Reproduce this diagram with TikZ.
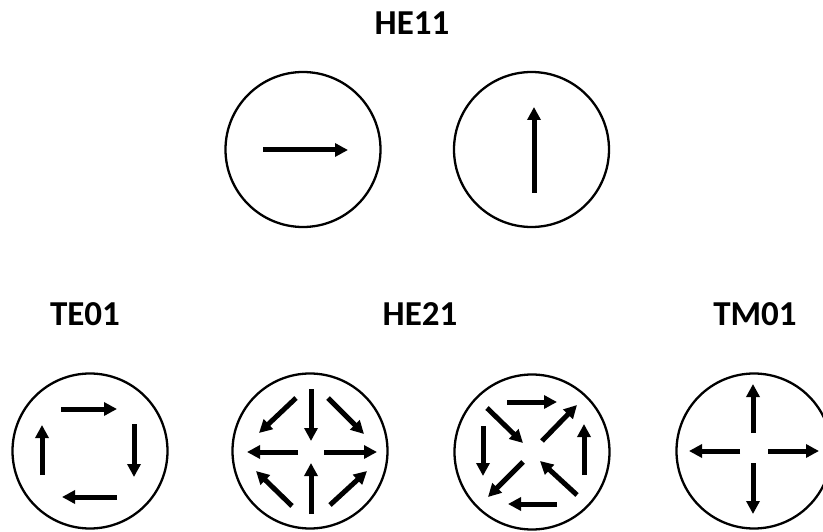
\documentclass[tikz,border=0pt]{standalone}
\usepackage{fontspec}
\setmainfont{Carlito}
\usepackage{tikz}
\usetikzlibrary{arrows.meta}

\begin{document}
\begin{tikzpicture}[
    x=1pt, y=-1pt,
    mode/.style={
        circle, draw=black, line width=2.3pt,
        minimum size=155pt, inner sep=0pt
    },
    vec/.style={-{Triangle[length=13pt, width=13pt]}, line width=5pt},
    modelabel/.style={anchor=base, inner sep=0pt,
        font=\fontsize{35}{40}\selectfont\bfseries},
]
\useasboundingbox (0,0) rectangle (823,532);

% Etichette
\node[modelabel] (lhe11) at (412,35)  {HE11};
\node[modelabel] (lte01) at (85,325)  {TE01};
\node[modelabel] (lhe21) at (420,325) {HE21};
\node[modelabel] (ltm01) at (755,325) {TM01};

% Sezioni della fibra
\node[mode] (he11a) at (303,149.5) {};
\node[mode] (he11b) at (531.5,149.5) {};
\node[mode] (te01)  at (90,451)  {};
\node[mode] (he21a) at (310,451) {};
\node[mode] (he21b) at (532,452) {};
\node[mode] (tm01)  at (754,451) {};

%% HE11
\draw[vec] (263,150) -- (348,150);
\draw[vec] (534,193) -- (534,107);

%% TE01
\draw[vec] (61,409)  -- (117,409);
\draw[vec] (134,424) -- (134,477);
\draw[vec] (117,497) -- (62,497);
\draw[vec] (42,475)  -- (42,425);

%% HE21 (sinistra)
\draw[vec] (311,389) -- (311,441);
\draw[vec] (311,514) -- (311,463);
\draw[vec] (298,452) -- (247,452);
\draw[vec] (324,452) -- (377,452);
\draw[vec] (296,398) -- (259,433);
\draw[vec] (328,398) -- (364,434);
\draw[vec] (292,506) -- (256,471);
\draw[vec] (330,505) -- (367,471);

%% HE21 (destra)
\draw[vec] (507,402) -- (557,402);
\draw[vec] (584,475) -- (584,424);
\draw[vec] (557,504) -- (508,504);
\draw[vec] (483,426) -- (483,476);
\draw[vec] (487,408) -- (523,443);
\draw[vec] (542,441) -- (577,405);
\draw[vec] (523,462) -- (488,497);
\draw[vec] (577,495) -- (540,461);

%% TM01
\draw[vec] (753,433) -- (753,384);
\draw[vec] (753,463) -- (753,514);
\draw[vec] (740,451) -- (689,451);
\draw[vec] (768,451) -- (819,451);

\end{tikzpicture}
\end{document}
